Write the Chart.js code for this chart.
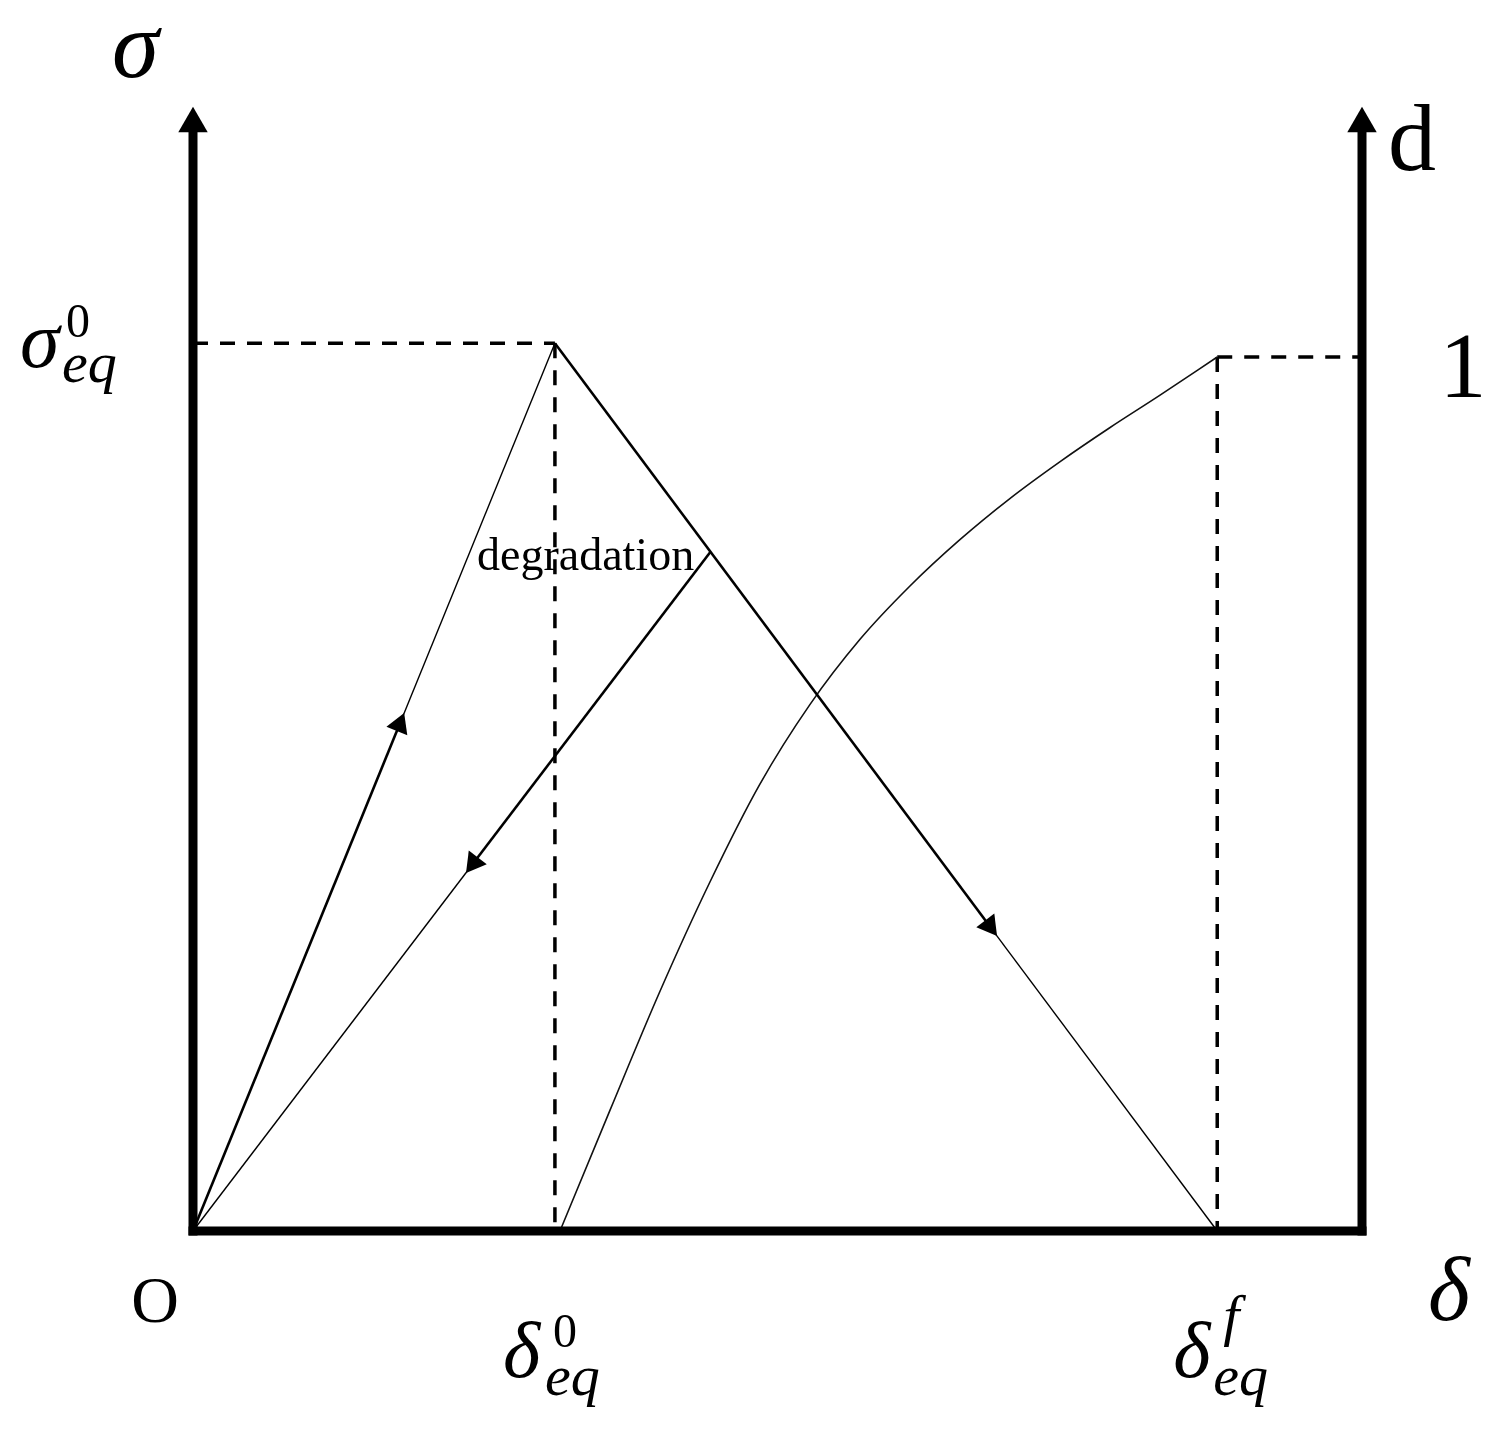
<!DOCTYPE html>
<html>
<head>
<meta charset="utf-8">
<script src="https://cdn.jsdelivr.net/npm/chart.js@4.4.1/dist/chart.umd.min.js"></script>
<style>
  html, body { margin: 0; padding: 0; background: #fff; }
  #wrap { width: 1502px; height: 1430px; }
</style>
</head>
<body>
<div id="wrap"><canvas id="myChart" width="1502" height="1430"></canvas></div>
<script>
// normalised values: delta / delta0, sigma / sigma0, damage d
const deltaPeak = 1;
const deltaFail = 2.83;
const sigmaPeak = 1;
const dFull = 1;
const xMax = 3.23;
const yMax = 1.266;
const dMax = 1.286;
const axisTip = 1.247;

// loading path O -> peak (middle value = arrow position)
const loadingX = [0, 0.57, 1];
const loadingY = [0, 0.57, 1];
// softening path peak -> delta_f
const softeningX = [1, 2.2, 2.83];
const softeningY = [1, 0.344, 0];
// unloading path back to O
const unloadingX = [1.43, 0.776, 0];
const unloadingY = [0.765, 0.415, 0];

// damage evolution d(delta)
const damageX = [1.014, 1.152, 1.29, 1.428, 1.566, 1.704, 1.843, 1.981, 2.119, 2.257, 2.395, 2.533, 2.671, 2.83];
const damageD = [0, 0.138, 0.274, 0.399, 0.511, 0.602, 0.677, 0.738, 0.791, 0.838, 0.88, 0.919, 0.956, 1.0];

function pts(xs, ys) {
  return xs.map((v, i) => ({ x: v, y: ys[i] }));
}

function axisLine(data, arrow) {
  return {
    data: data,
    borderColor: '#000',
    borderWidth: 9,
    borderCapStyle: 'square',
    pointStyle: 'triangle',
    pointRadius: arrow ? [0, 17] : 0,
    pointBorderWidth: 0,
    pointBackgroundColor: '#000',
    showLine: true,
    clip: false
  };
}

function pathLine(xs, ys, rot) {
  return {
    data: pts(xs, ys),
    borderColor: '#000',
    borderWidth: 1.5,
    segment: {
      borderWidth: ctx => (ctx.p0DataIndex === 0 ? 2.6 : 1.4)
    },
    pointStyle: 'triangle',
    pointRadius: [0, 13, 0],
    pointRotation: [0, rot, 0],
    pointBorderWidth: 0,
    pointBackgroundColor: '#000',
    showLine: true,
    clip: false
  };
}

function dashed(data, axis) {
  return {
    data: data,
    yAxisID: axis || 'y',
    borderColor: '#000',
    borderWidth: 3.5,
    borderDash: [15, 12],
    pointRadius: 0,
    showLine: true,
    clip: false
  };
}

const labels = {
  id: 'labels',
  afterDraw(chart) {
    const c = chart.ctx;
    const xs = chart.scales.x;
    const it = s => 'italic ' + s + 'px "Liberation Serif"';
    const up = s => s + 'px "Liberation Serif"';
    function t(str, px, py, font, align) {
      c.font = font;
      c.textAlign = align || 'left';
      c.fillText(str, px, py);
    }
    c.save();
    c.fillStyle = '#000';
    c.textBaseline = 'alphabetic';

    t('σ', 112, 77, it(95));
    t('d', 1388, 170, up(96));
    t('1', 1463, 397, up(94), 'center');
    t('O', 155, 1322, up(66), 'center');
    t('δ', 1428, 1320, it(90));

    // sigma_eq^0
    t('σ', 20, 367, it(80));
    t('0', 66, 337, up(48));
    t('eq', 62, 382, it(58));

    // delta_eq^0
    const x0 = xs.getPixelForValue(deltaPeak);
    t('δ', x0 - 52, 1377, it(80));
    t('0', x0 - 2, 1347, up(48));
    t('eq', x0 - 10, 1395, it(58));

    // delta_eq^f
    const xf = xs.getPixelForValue(deltaFail);
    t('δ', xf - 44, 1377, it(80));
    t('f', xf + 6, 1335, it(58));
    t('eq', xf - 4, 1395, it(58));

    t('degradation', 477, 570, up(46));
    c.restore();
  }
};

const myChartRef = document.getElementById('myChart').getContext('2d');

new Chart(myChartRef, {
  type: 'scatter',
  data: {
    datasets: [
      axisLine([{ x: 0, y: 0 }, { x: 0, y: axisTip }], true),
      axisLine([{ x: xMax, y: 0 }, { x: xMax, y: axisTip }], true),
      axisLine([{ x: 0, y: 0 }, { x: xMax, y: 0 }], false),
      pathLine(loadingX, loadingY, 22),
      pathLine(softeningX, softeningY, 143),
      pathLine(unloadingX, unloadingY, 217),
      {
        data: pts(damageX, damageD),
        yAxisID: 'y2',
        borderColor: '#111',
        borderWidth: 1.6,
        cubicInterpolationMode: 'monotone',
        pointRadius: 0,
        showLine: true,
        clip: false
      },
      dashed([{ x: 0, y: sigmaPeak }, { x: deltaPeak, y: sigmaPeak }]),
      dashed([{ x: deltaPeak, y: sigmaPeak }, { x: deltaPeak, y: 0 }]),
      dashed([{ x: deltaFail, y: dFull }, { x: xMax, y: dFull }], 'y2'),
      dashed([{ x: deltaFail, y: dFull }, { x: deltaFail, y: 0 }], 'y2')
    ]
  },
  options: {
    responsive: false,
    animation: false,
    events: [],
    layout: { padding: { left: 193, right: 140, top: 107, bottom: 199 } },
    plugins: { legend: { display: false }, tooltip: { enabled: false } },
    scales: {
      x: { type: 'linear', min: 0, max: xMax, display: false },
      y: { type: 'linear', min: 0, max: yMax, display: false },
      y2: { type: 'linear', min: 0, max: dMax, display: false }
    }
  },
  plugins: [labels]
});
</script>
</body>
</html>
